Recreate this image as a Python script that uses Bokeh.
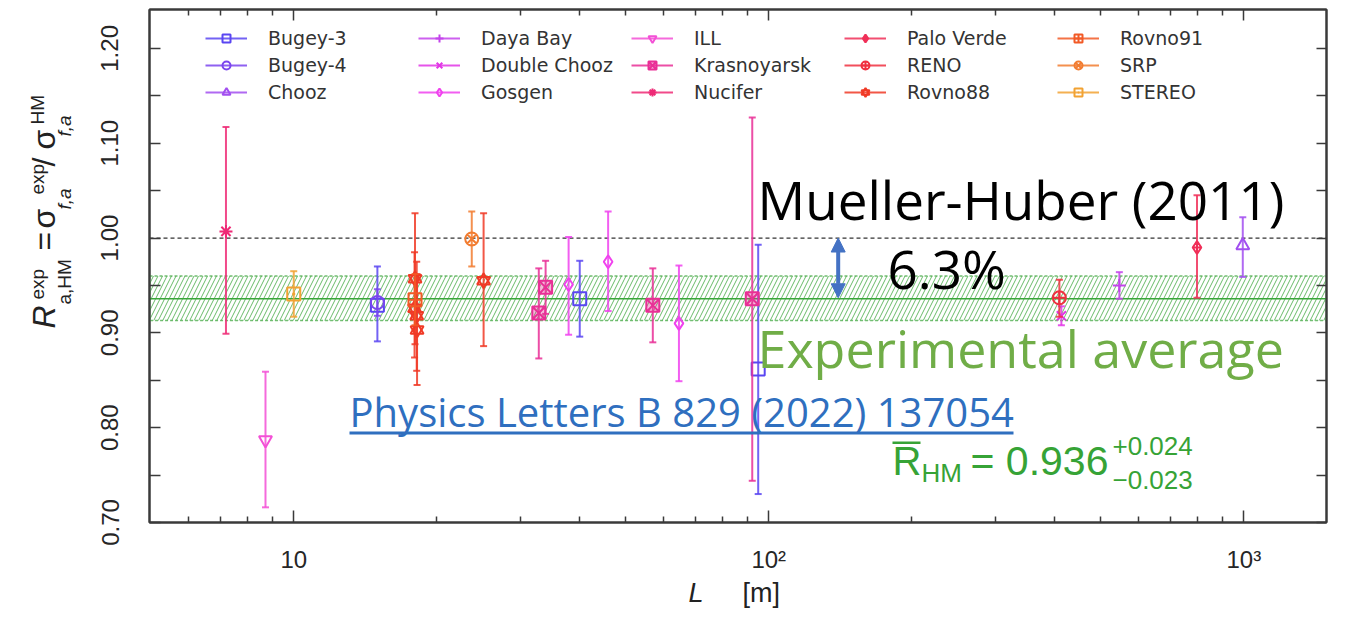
from math import pi

from bokeh.plotting import figure
from bokeh.layouts import row, column
from bokeh.models import (Range1d, LogAxis, LinearAxis, FixedTicker, PrintfTickFormatter,
                          CustomJSTickFormatter, Span, BoxAnnotation, Label, Arrow, NormalHead,
                          Legend, LegendItem, ColumnDataSource)
from bokeh.embed import file_html
from bokeh.resources import INLINE

# ---------------------------------------------------------------------------
# Reactor antineutrino rate ratios R = sigma_exp / sigma_HM versus baseline L
# ---------------------------------------------------------------------------
experiments = ["Bugey-3", "Bugey-4", "Chooz", "Daya Bay", "Double Chooz", "Gosgen", "ILL",
               "Krasnoyarsk", "Nucifer", "Palo Verde", "RENO", "Rovno88", "Rovno91", "SRP",
               "STEREO"]

point_experiment = ["Bugey-3", "Bugey-3", "Bugey-3", "Bugey-4", "Chooz", "Daya Bay",
                    "Double Chooz", "Gosgen", "Gosgen", "Gosgen", "ILL",
                    "Krasnoyarsk", "Krasnoyarsk", "Krasnoyarsk", "Krasnoyarsk",
                    "Nucifer", "Palo Verde", "RENO",
                    "Rovno88", "Rovno88", "Rovno88", "Rovno88", "Rovno88",
                    "Rovno91", "SRP", "STEREO"]
baseline_m = [15.0, 40.0, 95.0, 15.0, 995.0, 547.0,
              413.0, 37.9, 45.9, 64.7, 8.72,
              32.8, 33.9, 57.0, 92.3,
              7.2, 797.0, 409.0,
              18.0, 17.96, 18.15, 18.18, 25.1,
              18.0, 23.7, 10.0]
ratio = [0.929, 0.936, 0.862, 0.932, 0.992, 0.950,
         0.918, 0.951, 0.975, 0.910, 0.787,
         0.921, 0.948, 0.929, 0.936,
         1.007, 0.990, 0.937,
         0.957, 0.926, 0.918, 0.903, 0.955,
         0.935, 0.999, 0.941]
ratio_low = [0.891, 0.896, 0.730, 0.918, 0.959, 0.936,
             0.908, 0.898, 0.923, 0.849, 0.716,
             0.873, 0.920, 0.890, 0.744,
             0.899, 0.937, 0.917,
             0.888, 0.874, 0.860, 0.845, 0.886,
             0.908, 0.970, 0.917]
ratio_high = [0.970, 0.976, 0.993, 0.946, 1.022, 0.964,
              0.928, 1.001, 1.028, 0.971, 0.859,
              0.968, 0.976, 0.968, 1.127,
              1.117, 1.045, 0.956,
              1.026, 0.985, 0.975, 0.962, 1.026,
              0.962, 1.028, 0.965]

# experimental average and its asymmetric uncertainty
avg_ratio = 0.936
avg_err_plus = 0.024
avg_err_minus = 0.023
deficit = 0.063          # gap to the Mueller-Huber prediction (R = 1)

x_tick_values = [10, 100, 1000]
x_tick_labels = ["10", "10\u00b2", "10\u00b3"]
x_minor_values = [6, 7, 8, 9, 20, 30, 40, 50, 60, 70, 80, 90,
                  200, 300, 400, 500, 600, 700, 800, 900]
y_tick_values = [0.70, 0.80, 0.90, 1.00, 1.10, 1.20]
y_minor_values = [0.75, 0.85, 0.95, 1.05, 1.15]

# styling per experiment
colors = ["#5a46f2", "#7b45ee", "#a24ff0", "#c444ec", "#e236e6", "#f042ee", "#f350d6",
          "#e92f96", "#ee2a76", "#f02f58", "#f03040", "#f03a26", "#f25a26", "#f27c30",
          "#f2a232"]
markers = ["square", "circle", "triangle", "cross", "x", "diamond", "inverted_triangle",
           "square_x", "asterisk", "diamond_cross", "circle_cross", "hexagram",
           "square_cross", "circle_x", "square_dot"]

# ---------------------------------------------------------------------------
# page geometry: [y-title strip | plot] on top, a full-width x-title strip below
W, H = 1346, 617
LW = 90                      # width of the left title strip
BH = 42                      # height of the bottom title strip
FL, FT, FR, FB = 149, 9, 1326, 522   # plot frame edges on the page
PW, PH = W - LW, H - BH

p = figure(width=PW, height=PH, x_axis_type="log",
           x_range=Range1d(4.97, 1493), y_range=Range1d(0.70, 1.241),
           output_backend="svg", toolbar_location=None,
           min_border_left=FL - LW, min_border_right=W - FR,
           min_border_top=FT, min_border_bottom=PH - FB)
p.grid.visible = False
p.outline_line_color = "#3a3a3a"
p.outline_line_width = 2
p.background_fill_color = "white"
p.border_fill_color = "white"


def strip(width, height):
    f = figure(width=width, height=height, x_range=Range1d(0, width), y_range=Range1d(0, height),
               output_backend="svg", toolbar_location=None,
               x_axis_location=None, y_axis_location=None,
               min_border=0, min_border_left=0, min_border_right=0,
               min_border_top=0, min_border_bottom=0)
    f.grid.visible = False
    f.outline_line_color = None
    f.background_fill_color = "white"
    f.border_fill_color = "white"
    return f


pl = strip(LW, PH)
pb = strip(W, BH)

TICK_FONT = "Liberation Sans"
x_ticker = FixedTicker(ticks=x_tick_values, minor_ticks=x_minor_values)
y_ticker = FixedTicker(ticks=y_tick_values, minor_ticks=y_minor_values)
x_fmt = CustomJSTickFormatter(args=dict(vals=x_tick_values, labs=x_tick_labels),
                              code="const i = vals.indexOf(tick); return i >= 0 ? labs[i] : '';")
blank = CustomJSTickFormatter(code="return '';")


def style_axis(ax, labels=True):
    ax.axis_line_color = "#3a3a3a"
    ax.axis_line_width = 2
    ax.major_tick_line_color = "#3a3a3a"
    ax.minor_tick_line_color = "#3a3a3a"
    ax.major_tick_line_width = 1.5
    ax.minor_tick_line_width = 1.5
    ax.major_tick_out = 0
    ax.minor_tick_out = 0
    ax.major_label_text_font = TICK_FONT
    ax.major_label_text_color = "#262626"
    if not labels:
        ax.major_label_text_font_size = "0px"
        ax.major_label_standoff = 0


xb = p.xaxis[0]
xb.ticker = x_ticker
xb.formatter = x_fmt
style_axis(xb)
xb.major_tick_in = 12
xb.minor_tick_in = 6
xb.major_label_text_font_size = "24px"
xb.major_label_standoff = 23

yl = p.yaxis[0]
yl.ticker = y_ticker
yl.formatter = PrintfTickFormatter(format="%.2f")
style_axis(yl)
yl.major_tick_in = 11
yl.minor_tick_in = 11
yl.major_label_text_font_size = "24px"
yl.major_label_orientation = "vertical"
yl.major_label_standoff = 31

xt = LogAxis(ticker=x_ticker, formatter=blank)
style_axis(xt, labels=False)
xt.major_tick_in = 11
xt.minor_tick_in = 6
p.add_layout(xt, "above")

yr = LinearAxis(ticker=y_ticker, formatter=blank)
style_axis(yr, labels=False)
yr.major_tick_in = 10
yr.minor_tick_in = 10
p.add_layout(yr, "right")

# reference line at R = 1 and the experimental-average band
p.add_layout(Span(location=1.0, dimension="width", line_color="#333333",
                  line_dash="4 3", line_width=1.2, level="underlay"))
band = BoxAnnotation(bottom=avg_ratio - avg_err_minus, top=avg_ratio + avg_err_plus,
                     fill_color=None, fill_alpha=0,
                     hatch_pattern="/", hatch_color="#4fae4f", hatch_alpha=0.85,
                     hatch_scale=9, hatch_weight=1.0,
                     line_color="#4fae4f", line_alpha=0.8, line_dash="3 2", line_width=1.5,
                     level="underlay")
p.add_layout(band)
p.add_layout(Span(location=avg_ratio, dimension="width", line_color="#3aa63a",
                  line_width=1.6, level="underlay"))

# data points with error bars, one group per experiment
items = []
for name, color, marker in zip(experiments, colors, markers):
    idx = [i for i, e in enumerate(point_experiment) if e == name]
    src = ColumnDataSource(dict(
        x=[baseline_m[i] for i in idx],
        y=[ratio[i] for i in idx],
        lo=[ratio_low[i] for i in idx],
        hi=[ratio_high[i] for i in idx],
    ))
    seg = p.segment(x0="x", y0="lo", x1="x", y1="hi", source=src,
                    line_color=color, line_width=2, line_alpha=0.85)
    for end in ("lo", "hi"):
        p.scatter(x="x", y=end, source=src, marker="dash", size=7,
                  line_color=color, line_width=2, line_alpha=0.85)
    rends = [seg]
    fill = color if marker == "square_x" else None
    if marker == "hexagram":
        for m in ("triangle", "inverted_triangle"):
            rends.append(p.scatter(x="x", y="y", source=src, marker=m, size=13,
                                   line_color=color, fill_color=None, line_width=2))
    else:
        rends.append(p.scatter(x="x", y="y", source=src, marker=marker, size=13,
                               line_color=color, fill_color=fill, fill_alpha=0.35,
                               line_width=2))
    items.append(LegendItem(label=name, renderers=rends))

legend = Legend(items=items, orientation="vertical", nrows=3,
                location=(56, 419), glyph_width=42, glyph_height=20,
                label_standoff=21, spacing=5, padding=0, margin=0, label_width=145,
                label_text_font="DejaVu Sans", label_text_font_size="19px",
                label_text_color="#333333",
                border_line_alpha=0, background_fill_alpha=0)
p.add_layout(legend)

# --- text helpers working in page pixels (y measured downward from the page top)
ORIGINS = {id(p): (FL, FB), id(pl): (0, PH), id(pb): (0, H)}
SHIFT = 0.39   # lifts the drawn baseline onto the requested one


def put(fig, text, x, y, size, color="#222222", font=TICK_FONT, style="normal", angle=0.0):
    ox, oy = ORIGINS[id(fig)]
    if angle:
        x -= SHIFT * size
    else:
        y -= SHIFT * size
    fig.add_layout(Label(x=x - ox, y=oy - y, x_units="screen", y_units="screen",
                         text=text, text_font=font, text_font_size=f"{size}px",
                         text_color=color, text_font_style=style, angle=angle,
                         text_align="left", text_baseline="alphabetic"))


def bar(fig, x0, x1, y0, y1, color):
    ox, oy = ORIGINS[id(fig)]
    fig.add_layout(BoxAnnotation(left=x0 - ox, right=x1 - ox, top=oy - y0, bottom=oy - y1,
                                 left_units="screen", right_units="screen",
                                 top_units="screen", bottom_units="screen",
                                 fill_color=color, fill_alpha=1, line_alpha=0))


# y title:  R^exp_{a,HM} = sigma^exp_{f,a} / sigma^HM_{f,a}
V = pi / 2
put(pl, "R", 56, 381, 32, style="italic", angle=V)
put(pl, "exp", 44, 352, 19, angle=V)
put(pl, "a,HM", 71, 357, 19, angle=V)
put(pl, "=", 56, 303, 32, angle=V)
put(pl, "\u03c3", 56, 281, 32, angle=V)
put(pl, "exp", 44, 247, 19, angle=V)
put(pl, "f,a", 71, 262, 19, style="italic", angle=V)
put(pl, "/", 56, 219, 32, angle=V)
put(pl, "\u03c3", 56, 202, 32, angle=V)
put(pl, "HM", 44, 177, 19, angle=V)
put(pl, "f,a", 71, 189, 19, style="italic", angle=V)

# x title
put(pb, "L", 688, 603, 27, style="italic")
put(pb, "[m]", 742, 603, 27)

# slide overlays
put(p, "Mueller-Huber (2011)", 757, 220, 53, color="#000000", font="Open Sans")
put(p, f"{deficit * 100:.1f}%", 887, 289, 53, color="#000000", font="Open Sans")
put(p, "Experimental average", 757, 367, 52, color="#70ad47", font="Open Sans")
put(p, "Physics Letters B 829 (2022) 137054", 349, 427, 40, color="#2f6fbf", font="Open Sans")
bar(p, 349, 1013, 431, 434, "#2f6fbf")

p.add_layout(Arrow(x_start=140, y_start=1.0, x_end=140, y_end=1.0 - deficit,
                   line_color="#4472c4", line_width=4,
                   start=NormalHead(size=14, fill_color="#4472c4", line_color="#4472c4"),
                   end=NormalHead(size=14, fill_color="#4472c4", line_color="#4472c4")))

GREEN = "#36a336"
put(p, "R", 892, 476, 40, color=GREEN)
bar(p, 892, 920, 441, 443.5, GREEN)
put(p, "HM", 921, 483, 26, color=GREEN)
put(p, f"= {avg_ratio:.3f}", 970, 476, 41, color=GREEN)
put(p, f"+{avg_err_plus:.3f}", 1112, 456, 26, color=GREEN)
put(p, f"\u2212{avg_err_minus:.3f}", 1112, 490, 26, color=GREEN)

page = column(row(pl, p, spacing=0), pb, spacing=0)
open("out.html", "w").write(file_html(page, INLINE))
